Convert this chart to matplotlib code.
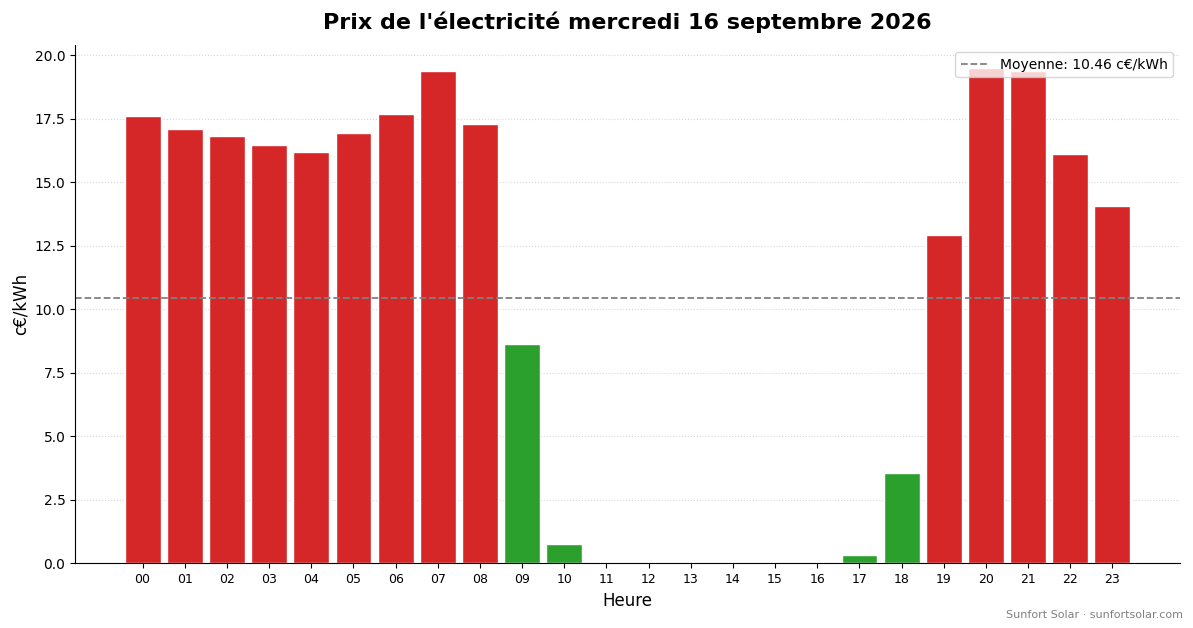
import matplotlib
matplotlib.use('Agg')
import matplotlib.pyplot as plt

hours = [f"{h:02d}" for h in range(24)]
prices = [17.63, 17.12, 16.84, 16.49, 16.21, 16.96, 17.71, 19.37, 17.28, 8.64,
          0.75, 0.05, 0.0, 0.0, 0.0, 0.0, 0.03, 0.32, 3.55, 12.94,
          19.50, 19.40, 16.13, 14.08]
mean = 10.46

colors = ['#d62728' if p > mean else '#2ca02c' for p in prices]

fig, ax = plt.subplots(figsize=(11.93, 6.28), dpi=100)
ax.bar(range(24), prices, width=0.85, color=colors, edgecolor='white', linewidth=1)
ax.axhline(mean, color='gray', linestyle='--', linewidth=1.3, label=f'Moyenne: {mean:.2f} c€/kWh')
ax.set_xticks(range(24))
ax.set_xticklabels(hours, fontsize=9)
ax.set_xlim(-1.6, 24.6)
ax.set_ylim(0, 20.4)
ax.set_xlabel('Heure', fontsize=12)
ax.set_ylabel('c€/kWh', fontsize=12)
ax.set_title("Prix de l'électricité mercredi 16 septembre 2026", fontsize=16, fontweight='bold', pad=12)
ax.grid(axis='y', linestyle=':', alpha=0.5)
ax.set_axisbelow(True)
ax.spines['top'].set_visible(False)
ax.spines['right'].set_visible(False)
ax.legend(loc='upper right', fontsize=10)
fig.text(0.992, 0.012, 'Sunfort Solar · sunfortsolar.com', ha='right', va='bottom', fontsize=8, color='gray')
plt.subplots_adjust(left=0.063, right=0.989, top=0.928, bottom=0.103)
plt.savefig('out.png', dpi=100)
